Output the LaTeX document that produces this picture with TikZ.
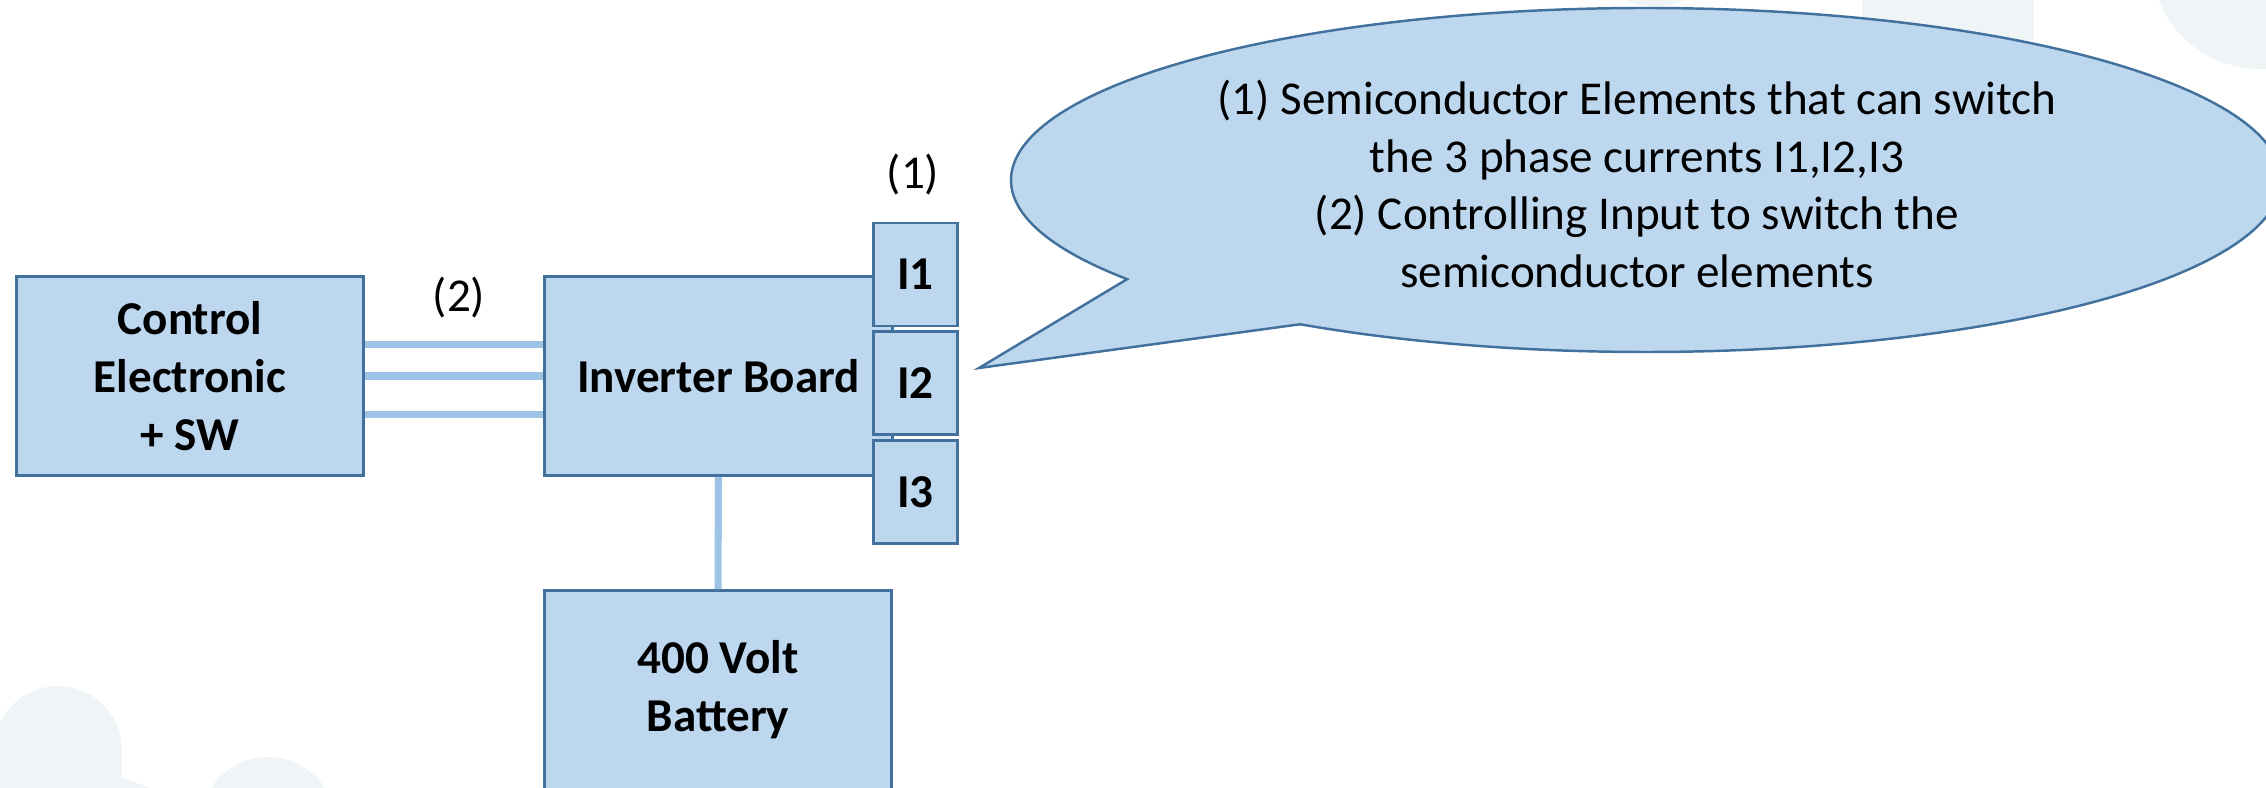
\documentclass[tikz,border=0pt]{standalone}
\usepackage{fontspec}
\setmainfont{Carlito}
\usetikzlibrary{positioning}

\definecolor{boxfill}{HTML}{BDD7EE}
\definecolor{boxline}{HTML}{41719C}
\definecolor{busline}{HTML}{9DC3E6}
\definecolor{ghost}{HTML}{EFF4F7}

\begin{document}
\begin{tikzpicture}[x=0.01cm,y=-0.01cm,
    block/.style={draw=boxline,line width=0.8pt,fill=boxfill,minimum width=3.47cm,
      minimum height=1.99cm,inner sep=0pt,align=center,
      font=\fontsize{13.4}{16.4}\selectfont\bfseries},
    port/.style={draw=boxline,line width=0.8pt,fill=boxfill,minimum width=0.84cm,
      minimum height=1.03cm,inner sep=0pt,font=\fontsize{13.4}{16.4}\selectfont\bfseries},
    bus/.style={busline,line width=2pt},
    tag/.style={font=\fontsize{13.4}{16.4}\selectfont}]
  \useasboundingbox (0,0) rectangle (2266,788);
  \fill[ghost] (58,750) circle (64);
  \fill[ghost] (-5,750) -- (122,750) -- (122,777) -- (160,792) -- (-5,792) -- cycle;
  \fill[ghost] (268,825) circle (68);
  \fill[ghost] (2260,-40) circle (109);
  \fill[ghost] (1862,-5) rectangle (2034,40);
  \fill[ghost] (1655,-55) circle (62);
  \node[block] (ctrl) at (190,376) {Control\\Electronic\\+ SW};
  \node[block] (inv) at (718.5,376) {Inverter Board};
  \node[block] (bat) at (718,690) {400 Volt\\Battery};
  \node[port] (i1) at (915.5,274.5) {I1};
  \node[port,below=0.03cm of i1] (i2) {I2};
  \node[port,below=0.03cm of i2] (i3) {I3};
  \draw[bus] ([yshift=0.31cm]ctrl.east) -- ([yshift=0.31cm]inv.west);
  \draw[bus] (ctrl.east) -- (inv.west);
  \draw[bus] ([yshift=-0.38cm]ctrl.east) -- ([yshift=-0.38cm]inv.west);
  \draw[bus] (inv.south) -- (bat.north);
  \node[tag] (two) at (459,298) {(2)};
  \node[tag] (one) at (913,175) {(1)};
  \draw[draw=boxline,fill=boxfill,line width=0.7pt]
    (1646,180) ++(144.8:635 and 172)
    arc[start angle=144.8,end angle=483,x radius=635,y radius=172]
    -- (979,368) -- cycle;
  \node[tag,align=center] (note) at (1637,184)
    {(1) Semiconductor Elements that can switch\\
     the 3 phase currents I1,I2,I3\\
     (2) Controlling Input to switch the\\
     semiconductor elements};
\end{tikzpicture}
\end{document}
